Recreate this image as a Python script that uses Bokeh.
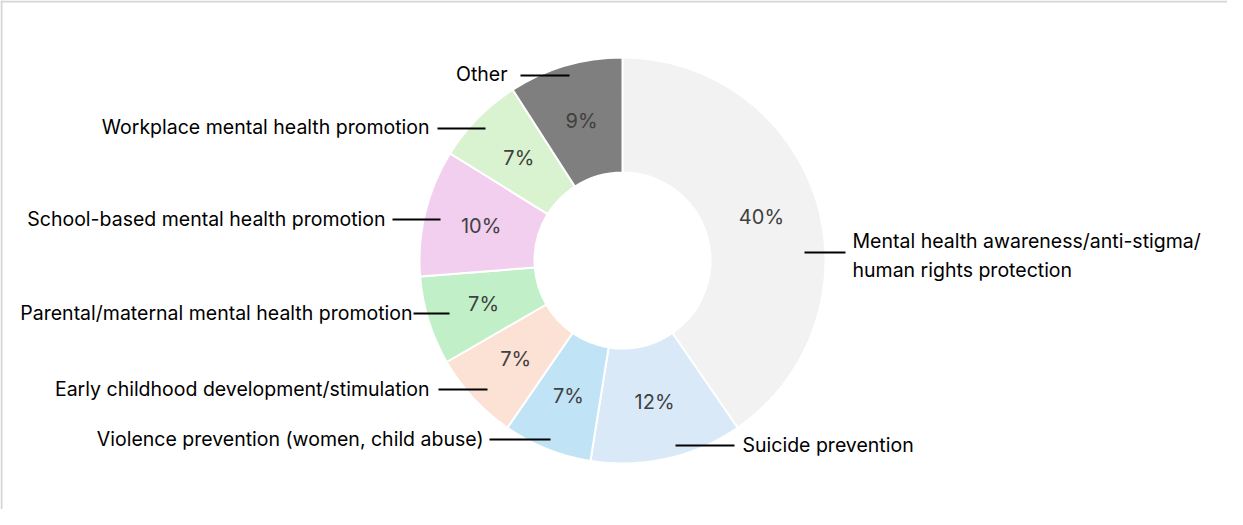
import numpy as np
from bokeh.plotting import figure
from bokeh.models import Range1d, Span, ColumnDataSource
from bokeh.core.properties import value
from bokeh.embed import file_html
from bokeh.resources import INLINE

# ---------------- data ----------------
categories = [
    "Mental health awareness/anti-stigma/\nhuman rights protection",
    "Suicide prevention",
    "Violence prevention (women, child abuse)",
    "Early childhood development/stimulation",
    "Parental/maternal mental health promotion",
    "School-based mental health promotion",
    "Workplace mental health promotion",
    "Other",
]
percent_values = [40, 12, 7, 7, 7, 10, 7, 9]
slice_colors = ["#f2f2f2", "#dae9f8", "#c0e4f5", "#fbe2d5",
                "#c1f0c8", "#f2ceef", "#d9f2d0", "#7f7f7f"]

# ---------------- layout (screen pixels) ----------------
W, H = 1227, 509
def sy(y):  # screen y -> data y
    return 525 - y

CX, CY = 630, sy(268)
R_OUT, R_IN = 203, 88
FONT = "Inter"

# leader line (x0, x1, y), label text anchor (x, y, align)
label_layout = [
    (812, 853, 260, 860, 263, "left"),
    (683, 742, 453, 750, 452, "left"),
    (497, 558, 447, 491, 446, "right"),
    (446, 495, 397, 437, 396, "right"),
    (421, 457, 321, 420, 320, "right"),
    (400, 448, 227, 393, 226, "right"),
    (445, 493, 136, 437, 134, "right"),
    (528, 577, 83, 515, 81, "right"),
]

p = figure(width=W, height=H, x_range=Range1d(8, 8 + W), y_range=Range1d(525 - 8 - H, 525 - 8),
           output_backend="svg", toolbar_location=None, min_border=0)
p.axis.visible = False
p.grid.visible = False
p.outline_line_color = None
p.background_fill_color = "white"
p.border_fill_color = "white"

# frame edges (top and left)
p.add_layout(Span(location=525 - 9, dimension="width", line_color="#d6d6d6", line_width=2))
p.add_layout(Span(location=9, dimension="height", line_color="#d6d6d6", line_width=2))

vals = np.array(percent_values, dtype=float)
total = vals.sum()
cum = np.concatenate([[0], np.cumsum(vals)])
theta0 = 2 * np.pi * cum[:-1] / total
theta1 = 2 * np.pi * cum[1:] / total
start = np.pi / 2 - theta1
end = np.pi / 2 - theta0
mid = (theta0 + theta1) / 2

src = ColumnDataSource(dict(
    start=start, end=end, color=slice_colors,
    lx=CX + (R_OUT + R_IN) / 2 * np.sin(mid),
    ly=CY + (R_OUT + R_IN) / 2 * np.cos(mid),
    pct=[f"{v}%" for v in percent_values],
))

p.annular_wedge(x=CX, y=CY, inner_radius=R_IN, outer_radius=R_OUT,
                start_angle="start", end_angle="end", fill_color="color",
                line_color="white", line_width=2, source=src)

p.text(x="lx", y="ly", text="pct", source=src, text_align="center",
       text_baseline="middle", text_font=value(FONT), text_font_size="20px",
       text_color="#404040")

# leader lines and category labels
p.segment(x0=[l[0] for l in label_layout], x1=[l[1] for l in label_layout],
          y0=[sy(l[2]) for l in label_layout], y1=[sy(l[2]) for l in label_layout],
          line_color="black", line_width=2)

for cat, (x0, x1, y, tx, ty, align) in zip(categories, label_layout):
    p.text(x=[tx], y=[sy(ty)], text=[cat], text_align=align, text_baseline="middle",
           text_font=value(FONT), text_font_size="19.5px", text_color="black",
           text_line_height=1.2)

open("out.html", "w").write(file_html(p, INLINE))
